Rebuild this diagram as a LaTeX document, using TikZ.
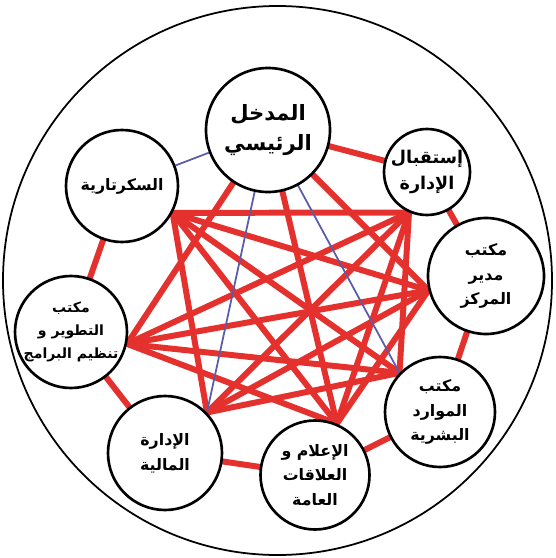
\documentclass[tikz,border=0pt]{standalone}
\usepackage{fontspec}
\newfontfamily\arabicfont[Script=Arabic]{DejaVu Sans}
\TeXXeTstate=1
\usetikzlibrary{backgrounds}
\newcommand{\rtl}[1]{\beginR #1\endR}
\definecolor{linkred}{HTML}{E5312E}
\definecolor{linkblue}{HTML}{5A5CA8}
\tikzset{
  room/.style={circle, draw=black, line width=1.5pt, fill=white, align=center, inner sep=0pt,
    font=\arabicfont\bfseries\fontsize{9}{14}\selectfont},
  redlink/.style={draw=linkred, line width=3.4pt, line cap=round},
  bluelink/.style={draw=linkblue, line width=1pt},
}

\begin{document}
\begin{tikzpicture}[x=0.2mm, y=-0.2mm]
  \useasboundingbox (0,0) rectangle (555,558);
  \node[room, minimum size=24.8mm, font=\arabicfont\bfseries\fontsize{12}{17}\selectfont] (entry) at (268,130) {\rtl{المدخل}\\\rtl{الرئيسي}};
  \node[room, minimum size=17.2mm, font=\arabicfont\bfseries\fontsize{10}{15}\selectfont] (reception) at (427,172) {\rtl{إستقبال}\\\rtl{الإدارة}};
  \node[room, minimum size=23.2mm] (director) at (486,276) {\rtl{مكتب}\\\rtl{مدير}\\\rtl{المركز}};
  \node[room, minimum size=22mm] (hr) at (440,412) {\rtl{مكتب}\\\rtl{الموارد}\\\rtl{البشرية}};
  \node[room, minimum size=21.8mm] (media) at (315,475) {\rtl{الإعلام و}\\\rtl{العلاقات}\\\rtl{العامة}};
  \node[room, minimum size=22.8mm] (finance) at (165,453) {\rtl{الإدارة}\\\rtl{المالية}};
  \node[room, minimum size=22.4mm, font=\arabicfont\bfseries\fontsize{8}{13}\selectfont] (devel) at (71,332) {\rtl{مكتب}\\\rtl{التطوير و}\\\rtl{تنظيم البرامج}};
  \node[room, minimum size=22.4mm] (secretary) at (122,186) {\rtl{السكرتارية}};

  % meeting points of the inner links
  \coordinate (e) at (entry.center);
  \coordinate (r) at (reception.246);
  \coordinate (d) at (director.194);
  \coordinate (h) at (hr.136);
  \coordinate (m) at (media.67);
  \coordinate (f) at (finance.44);
  \coordinate (v) at (devel.348);
  \coordinate (s) at (secretary.332);

  \begin{scope}[on background layer]
    \draw[line width=1pt] (277.5,280.5) circle [radius=274.5];
    % ring
    \foreach \a/\b in {entry/reception, reception/director, director/hr, hr/media,
      media/finance, finance/devel, devel/secretary}
      \draw[redlink] (\a) -- (\b);
    \draw[bluelink] (secretary) -- (entry);
    % inner links
    \foreach \a/\b in {s/r, s/d, s/h, s/m, s/f, e/d, e/m, e/v, r/h, r/m, r/f, r/v,
      d/m, d/f, d/v, h/f, h/v, m/v}
      \draw[redlink] (\a) -- (\b);
    \draw[bluelink] (e) -- (h);
    \draw[bluelink] (e) -- (f);
  \end{scope}
\end{tikzpicture}
\end{document}
